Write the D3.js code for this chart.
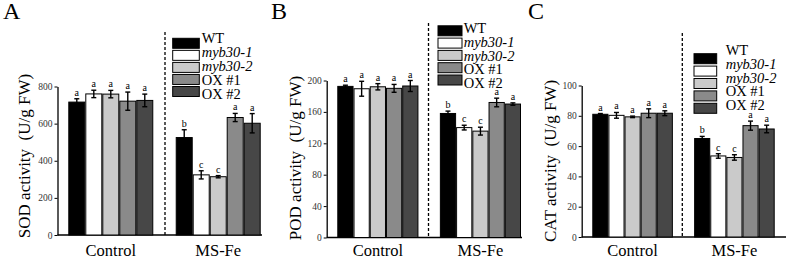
<!DOCTYPE html>
<html><head><meta charset="utf-8">
<script src="https://cdn.jsdelivr.net/npm/d3@7"></script>
<style>
html,body{margin:0;padding:0;background:#fff;}
svg{display:block;}
svg text{font-family:"Liberation Serif","Times New Roman","DejaVu Serif",serif !important;}
</style></head>
<body>
<svg id="chart" width="786" height="258" font-family="Liberation Serif"></svg>
<script>
const groups = ["Control", "MS-Fe"];
const genotypes = ["WT", "myb30-1", "myb30-2", "OX #1", "OX #2"];
const italicGenotypes = ["myb30-1", "myb30-2"];
const colors = ["#000000", "#ffffff", "#cacaca", "#8a8a8a", "#474747"];

const sodTicks = [0, 200, 400, 600, 800];
const sodControl = [716, 760, 759, 721, 725];
const sodControlErr = [18, 20, 20, 49, 34];
const sodFe = [525, 324, 314, 633, 602];
const sodFeErr = [42, 22, 6, 22, 52];
const sodLettersControl = ["a", "a", "a", "a", "a"];
const sodLettersFe = ["b", "c", "c", "a", "a"];

const podTicks = [0, 40, 80, 120, 160, 200];
const podControl = [192.5, 189.5, 192, 190, 193];
const podControlErr = [1.5, 9.5, 4, 5, 7];
const podFe = [158, 140, 135.5, 172, 170];
const podFeErr = [3, 3, 5, 5.5, 1.5];
const podLettersControl = ["a", "a", "a", "a", "a"];
const podLettersFe = ["b", "c", "c", "a", "a"];

const catTicks = [0, 20, 40, 60, 80, 100];
const catControl = [81, 80.3, 79.3, 81.7, 81.7];
const catControlErr = [0.5, 1.9, 0.5, 2.9, 1.6];
const catFe = [65, 53.5, 52.5, 73.5, 71.3];
const catFeErr = [1.4, 1.5, 1.8, 3, 2.5];
const catLettersControl = ["a", "a", "a", "a", "a"];
const catLettersFe = ["b", "c", "c", "a", "a"];

const panels = [
  {letter: "A", title: "SOD activity  (U/g FW)", ticks: sodTicks,
   vals: [sodControl, sodFe], errs: [sodControlErr, sodFeErr], sig: [sodLettersControl, sodLettersFe],
   L: {letterX: 3, axisX: 57.5, x0: 68.3, x1: 260.7, xEnd: 262, y0: 235, y1: 86.5, dash: 165, dashTop: 32,
       titleX: 30, titleY: 156, legX: 172.7, legW: 26.6, legY: 43.3, legStep: 12.05, txtX: 201.7, txtY: 43.3, txtStep: 13.9}},
  {letter: "B", title: "POD activity  (U/g FW)", ticks: podTicks,
   vals: [podControl, podFe], errs: [podControlErr, podFeErr], sig: [podLettersControl, podLettersFe],
   L: {letterX: 271, axisX: 326.7, x0: 337.3, x1: 521, xEnd: 522, y0: 237.5, y1: 80.5, dash: 428.5, dashTop: 23,
       titleX: 301, titleY: 158, legX: 438, legW: 24, legY: 30.8, legStep: 12.3, txtX: 463.7, txtY: 33, txtStep: 13.75}},
  {letter: "C", title: "CAT activity  (U/g FW)", ticks: catTicks,
   vals: [catControl, catFe], errs: [catControlErr, catFeErr], sig: [catLettersControl, catLettersFe],
   L: {letterX: 528, axisX: 581.7, x0: 592.3, x1: 774.7, xEnd: 786, y0: 237, y1: 85.5, dash: 682.3, dashTop: 33,
       titleX: 556, titleY: 161, legX: 694, legW: 22.7, legY: 58.7, legStep: 12.4, txtX: 725.7, txtY: 55, txtStep: 13.75}}
];

const FONT = "Liberation Serif";
const svg = d3.select("#chart");

panels.forEach(p => {
  const L = p.L;
  const g = svg.append("g").attr("font-family", FONT);
  const yMax = p.ticks[p.ticks.length - 1];
  const y = d3.scaleLinear().domain([0, yMax]).range([L.y0, L.y1]);
  const x = d3.scaleBand().domain(groups).range([L.x0, L.x1]).paddingInner(0.209).paddingOuter(0);
  const xi = d3.scaleBand().domain(genotypes).range([0, x.bandwidth()]).padding(0);

  // panel letter
  g.append("text").attr("x", L.letterX).attr("y", 19).attr("font-size", 24)
    .attr("font-family", FONT).attr("fill", "#000").text(p.letter);

  // y axis
  const yAxis = d3.axisLeft(y).tickValues(p.ticks).tickSize(3).tickSizeOuter(0).tickPadding(2);
  const ya = g.append("g").attr("transform", `translate(${L.axisX},0)`).call(yAxis)
    .attr("font-family", FONT);
  ya.select(".domain").attr("stroke", "#000").attr("stroke-width", 1.3);
  ya.selectAll(".tick line").attr("stroke", "#000").attr("stroke-width", 1);
  ya.selectAll(".tick text").attr("font-size", 9.5).attr("fill", "#333").attr("font-family", FONT);

  // x axis line
  g.append("line").attr("x1", L.axisX).attr("x2", L.xEnd).attr("y1", y(0)).attr("y2", y(0))
    .attr("stroke", "#000").attr("stroke-width", 1.3);

  // group labels
  groups.forEach(gr => {
    g.append("text").attr("x", x(gr) + x.bandwidth() / 2).attr("y", 255.5)
      .attr("text-anchor", "middle").attr("font-size", 16.5).attr("font-family", FONT)
      .attr("fill", "#000").text(gr);
  });

  // y title
  g.append("text").attr("transform", `translate(${L.titleX},${L.titleY}) rotate(-90)`)
    .attr("text-anchor", "middle").attr("font-size", 17).attr("font-family", FONT).attr("fill", "#000")
    .style("white-space", "pre").text(p.title);

  // dashed separator
  g.append("line").attr("x1", L.dash).attr("x2", L.dash).attr("y1", L.dashTop).attr("y2", y(0))
    .attr("stroke", "#000").attr("stroke-width", 1.3).attr("stroke-dasharray", "3,2");

  // bars
  groups.forEach((gr, gi) => {
    const vals = p.vals[gi], errs = p.errs[gi], sig = p.sig[gi];
    genotypes.forEach((gt, k) => {
      const bx = x(gr) + xi(gt);
      g.append("rect").attr("x", bx + 0.5).attr("y", y(vals[k]))
        .attr("width", xi.bandwidth() - 1).attr("height", y(0) - y(vals[k]))
        .attr("fill", colors[k]).attr("stroke", "#000").attr("stroke-width", 1);
      const cx = bx + xi.bandwidth() / 2;
      const top = y(vals[k] + errs[k]), bot = y(vals[k] - errs[k]);
      g.append("line").attr("x1", cx).attr("x2", cx).attr("y1", top).attr("y2", bot)
        .attr("stroke", "#000").attr("stroke-width", 1.4);
      [top, bot].forEach(yy => g.append("line").attr("x1", cx - 2.5).attr("x2", cx + 2.5)
        .attr("y1", yy).attr("y2", yy).attr("stroke", "#000").attr("stroke-width", 1.4));
      g.append("text").attr("x", cx).attr("y", top - 3).attr("text-anchor", "middle")
        .attr("font-size", 10).attr("font-family", FONT).attr("fill", "#000").text(sig[k]);
    });
  });

  // legend
  genotypes.forEach((gt, k) => {
    const cy = L.legY + k * L.legStep;
    g.append("rect").attr("x", L.legX).attr("y", cy - 5).attr("width", L.legW).attr("height", 10)
      .attr("fill", colors[k]).attr("stroke", "#000").attr("stroke-width", 1);
    g.append("text").attr("x", L.txtX).attr("y", L.txtY + k * L.txtStep)
      .attr("font-size", 14.5).attr("font-family", FONT).attr("fill", "#000")
      .attr("font-style", italicGenotypes.includes(gt) ? "italic" : "normal").text(gt);
  });
});
</script>
</body></html>
